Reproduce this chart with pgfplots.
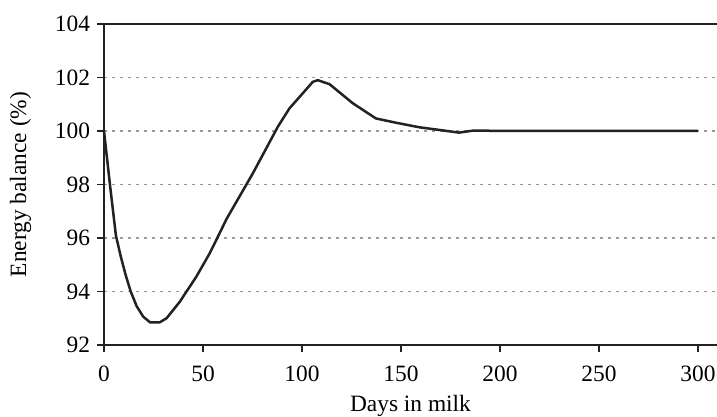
\documentclass[border=0pt]{standalone}
\usepackage{fontspec}
\setmainfont{Liberation Serif}
\usepackage{pgfplots}
\pgfplotsset{compat=1.18}
\definecolor{inkline}{HTML}{222222}
\begin{document}
\begin{tikzpicture}
\begin{axis}[
  at={(0,0)}, anchor=south west,
  scale only axis,
  width=306.5bp, height=160.5bp,
  xmin=0, xmax=309.6,
  ymin=92, ymax=104,
  xtick={0,50,...,300},
  ytick={92,94,...,104},
  axis lines=left,
  axis line style={-, inkline, line width=0.9bp},
  tick style={inkline, line width=0.8bp},
  tick align=outside,
  major tick length=3.5bp,
  ymajorgrids,
  major grid style={gray!80, line width=0.6bp, dash pattern=on 1.4bp off 2.6bp},
  /pgf/number format/assume math mode=true,
  tick label style={font=\fontsize{11.7bp}{14bp}\selectfont},
  xticklabel style={yshift=-3.5bp},
  label style={font=\fontsize{11.7bp}{14bp}\selectfont},
  xlabel={Days in milk},
  ylabel={Energy balance (\%)},
  ylabel shift=5bp,
  clip=false,
]
% daily energy balance over the lactation
\addplot[inkline, line width=1.25bp, line join=round] coordinates {
  (0,100) (3,98) (6,96.1) (8.5,95.3) (11,94.6) (13.5,94.0)
  (16.5,93.45) (19.8,93.06) (23.2,92.85) (28.2,92.85) (31.6,93.0)
  (38.3,93.62) (46.6,94.55) (53.4,95.43) (58.4,96.18) (61.8,96.7)
  (75.2,98.42) (87.8,100.16) (93.7,100.85) (100.4,101.41) (105.5,101.84)
  (108,101.9) (113.9,101.75) (125.6,101.04) (137.3,100.47) (147.4,100.31)
  (159.2,100.14) (169.3,100.04) (179.3,99.94) (186,100.01) (300,100)
};
% upper border of the plot area
\draw[inkline, line width=0.9bp] (rel axis cs:0,1) -- (rel axis cs:1,1);
\end{axis}
\pgfresetboundingbox
\path (-52bp,-36bp) rectangle (306.5bp,172.5bp);
\end{tikzpicture}
\end{document}
